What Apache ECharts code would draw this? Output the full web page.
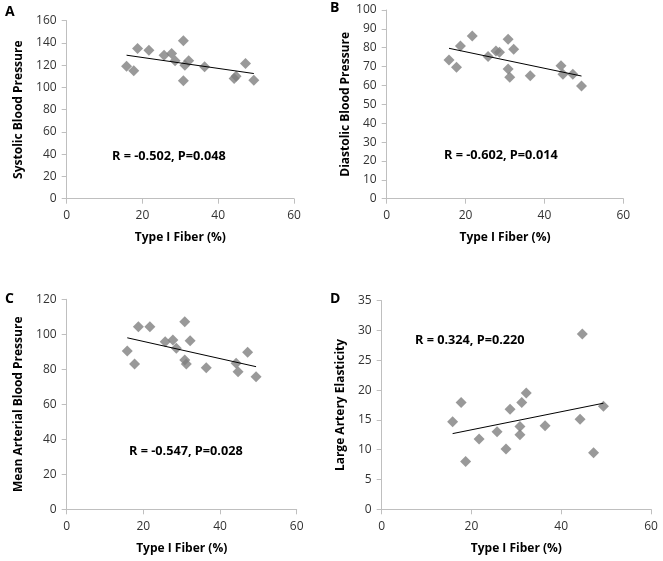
<!DOCTYPE html>
<html><head><meta charset="utf-8">
<script src="https://cdn.jsdelivr.net/npm/echarts@6/dist/echarts.min.js"></script>
<style>html,body{margin:0;padding:0;background:#fff}#c{width:663px;height:561px}</style>
</head><body><div id="c"></div>
<script>
// Shared x values (Type I fiber %)
const fiber = [15.8,17.7,18.7,21.7,25.7,27.7,28.6,30.8,30.8,31.2,32.2,36.4,44.2,44.7,47.2,49.4];
// Panel values
const sbp = [119,115,135,133.5,129,130.5,124,142,106,120,124,118.5,108,110,121.5,106.5];
const dbp = [73.5,69.6,80.9,86.2,75.3,78.3,77.6,84.5,68.7,64.3,79.2,65.2,70.5,65.9,65.9,59.7];
const mabp = [90.5,83,104.3,104.3,95.8,96.7,92,107.2,85.3,83,96.3,80.9,83.4,78.6,89.7,75.8];
const lae = [14.7,17.9,8.0,11.8,13.0,10.1,16.8,13.9,12.5,17.9,19.5,14.0,15.1,29.4,9.5,17.3];
// Trend line endpoints [x, y]
const trendA = [[15.8,129],[49.4,112.5]];
const trendB = [[15.8,79.7],[49.4,65]];
const trendC = [[15.8,98],[49.4,81.5]];
const trendD = [[15.8,12.7],[49.4,17.8]];
// Axis settings
const xMax = 60, xInterval = 20;
const yMaxA = 160, yIntA = 20;
const yMaxB = 100, yIntB = 10;
const yMaxC = 120, yIntC = 20;
const yMaxD = 35, yIntD = 5;
const yTitles = ['Systolic Blood Pressure','Diastolic Blood Pressure','Mean Arterial Blood Pressure','Large Artery Elasticity'];
const xTitle = 'Type I Fiber (%)';
const stats = ['R = -0.502, P=0.048','R = -0.602, P=0.014','R = -0.547, P=0.028','R = 0.324, P=0.220'];
const letters = ['A','B','C','D'];

const FONT = 'Open Sans';
const axisLineStyle = {lineStyle:{color:'#bfbfbf',width:1}};
function xAxis(i){
  return {gridIndex:i,type:'value',min:0,max:xMax,interval:xInterval,
    name:xTitle,nameLocation:'middle',nameGap:33,
    nameTextStyle:{fontFamily:FONT,fontWeight:'bold',fontSize:12,color:'#000'},
    axisLine:{show:true,onZero:false,...axisLineStyle},
    axisTick:{show:true,length:5,inside:false,lineStyle:{color:'#bfbfbf'}},
    axisLabel:{fontFamily:FONT,fontSize:12,color:'#333',margin:11},
    splitLine:{show:false}};
}
function yAxis(i,max,intv,gap){
  return {gridIndex:i,type:'value',min:0,max:max,interval:intv,
    name:yTitles[i],nameLocation:'middle',nameGap:gap,
    nameTextStyle:{fontFamily:FONT,fontWeight:'bold',fontSize:12,color:'#000'},
    axisLine:{show:true,...axisLineStyle},
    axisTick:{show:true,length:5,inside:false,lineStyle:{color:'#bfbfbf'}},
    axisLabel:{fontFamily:FONT,fontSize:12,color:'#333',margin:10},
    splitLine:{show:false}};
}
function pts(ys){return fiber.map((x,k)=>[x,ys[k]]);}
function scat(i,ys){return {type:'scatter',xAxisIndex:i,yAxisIndex:i,data:pts(ys),symbol:'diamond',symbolSize:11,itemStyle:{color:'#808080'},silent:true};}
function trend(i,d){return {type:'line',xAxisIndex:i,yAxisIndex:i,data:d,symbol:'none',lineStyle:{color:'#000',width:1},silent:true};}

const chart = echarts.init(document.getElementById('c'),null,{renderer:'canvas'});
const txt = (x,y,t,size)=>({type:'text',left:x,top:y,style:{text:t,fontFamily:FONT,fontWeight:'bold',fontSize:size,fill:'#000'}});
chart.setOption({
  animation:false,
  grid:[
    {left:66.7,right:369,top:20.7,bottom:362.3},
    {left:386.7,right:39.7,top:10,bottom:362.3},
    {left:66.7,right:366.3,top:299.3,bottom:51.7},
    {left:381.7,right:12,top:300.7,bottom:51.7}
  ],
  xAxis:[xAxis(0),xAxis(1),xAxis(2),xAxis(3)],
  yAxis:[yAxis(0,yMaxA,yIntA,42),yAxis(1,yMaxB,yIntB,35),yAxis(2,yMaxC,yIntC,42),yAxis(3,yMaxD,yIntD,35)],
  series:[scat(0,sbp),trend(0,trendA),scat(1,dbp),trend(1,trendB),scat(2,mabp),trend(2,trendC),scat(3,lae),trend(3,trendD)],
  graphic:[
    txt(5,5,letters[0],14), txt(330,1,letters[1],14), txt(5,292,letters[2],14), txt(330,292,letters[3],14),
    txt(112,150,stats[0],12.7), txt(444,149,stats[1],12.7), txt(129,445,stats[2],12.7), txt(415,334,stats[3],12.7)
  ]
});
</script></body></html>
